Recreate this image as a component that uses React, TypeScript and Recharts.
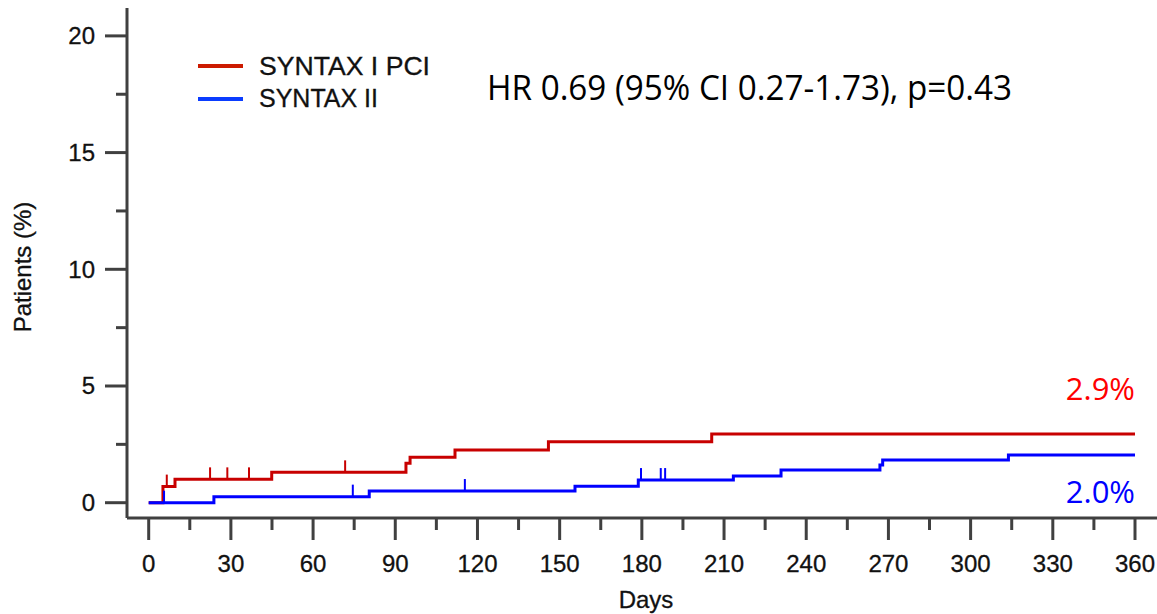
import { ComposedChart, Line, Scatter, XAxis, YAxis, Legend, Customized } from "recharts";

const dayTicks = [0, 15, 30, 45, 60, 75, 90, 105, 120, 135, 150, 165, 180, 195, 210, 225, 240, 255, 270, 285, 300, 315, 330, 345, 360];
const pctTicks = [0, 2.5, 5, 7.5, 10, 12.5, 15, 17.5, 20];

// Kaplan-Meier step points (day, cumulative %)
const pciDays = [0, 5.2, 9.6, 44.9, 93.9, 95.4, 111.8, 145.9, 205.5, 360];
const pciRisk = [0, 0.69, 1.0, 1.3, 1.69, 1.95, 2.26, 2.61, 2.94, 2.94];
const iiDays = [0, 23.8, 80.5, 155.6, 178.7, 213.4, 230.8, 266.9, 267.9, 313.8, 360];
const iiRisk = [0, 0.26, 0.5, 0.71, 0.97, 1.14, 1.4, 1.62, 1.83, 2.04, 2.04];

// censored observations
const pciCensorDays = [6.6, 22.4, 28.7, 36.6, 71.7];
const pciCensorRisk = [0.69, 1.0, 1.0, 1.0, 1.3];
const iiCensorDays = [5.6, 74.5, 115.4, 179.7, 186.9, 188.5];
const iiCensorRisk = [0, 0.26, 0.5, 0.97, 0.97, 0.97];

const pciLabel = "2.9%";
const iiLabel = "2.0%";

const pciData = pciDays.map((d, i) => ({ day: d, pct: pciRisk[i] }));
const iiData = iiDays.map((d, i) => ({ day: d, pct: iiRisk[i] }));
const pciCensor = pciCensorDays.map((d, i) => ({ day: d, pct: pciCensorRisk[i] }));
const iiCensor = iiCensorDays.map((d, i) => ({ day: d, pct: iiCensorRisk[i] }));

const RED = "#c80000";
const BLUE = "#0000ff";
const AXIS = "#404040";
const INK = "#111";
const ARIAL = "'Liberation Sans', Arial, sans-serif";
const CALIBRI = "'Open Sans', 'Noto Sans', sans-serif";

function DayTick({ x, y, payload }: any) {
  const major = payload.value % 30 === 0;
  return (
    <g>
      <line x1={x} x2={x} y1={y} y2={y + (major ? 22 : 12)} stroke={AXIS} strokeWidth={3} />
      {major && (
        <text x={x} y={y + 54} textAnchor="middle" fontSize={24} fontFamily={ARIAL} fill={INK} stroke={INK} strokeWidth={0.3}>
          {payload.value}
        </text>
      )}
    </g>
  );
}

function PctTick({ x, y, payload }: any) {
  const major = payload.value % 5 === 0;
  return (
    <g>
      <line x1={x - (major ? 22 : 11)} x2={x} y1={y} y2={y} stroke={AXIS} strokeWidth={3} />
      {major && (
        <text x={x - 32} y={y + 8.5} textAnchor="end" fontSize={24} fontFamily={ARIAL} fill={INK} stroke={INK} strokeWidth={0.3}>
          {payload.value}
        </text>
      )}
    </g>
  );
}

const censorMark = (color: string) => (p: any) =>
  <line x1={p.cx} x2={p.cx} y1={p.cy} y2={p.cy - 12} stroke={color} strokeWidth={2} />;

const endLabel = (text: string, color: string, dy: number, last: number) => (p: any) =>
  p.index === last ? (
    <text key="end" x={p.x} y={p.y + dy} textAnchor="end" fontSize={31} fontFamily={CALIBRI} fill={color}>
      {text}
    </text>
  ) : null;

function LegendBox() {
  return (
    <svg width={270} height={72} style={{ display: "block" }}>
      <line x1={8} x2={53} y1={21} y2={21} stroke="#cc1a00" strokeWidth={4} />
      <text x={69} y={29.5} fontSize={25} fontFamily={ARIAL} fill={INK} stroke={INK} strokeWidth={0.3} textLength={171} lengthAdjust="spacingAndGlyphs">
        SYNTAX I PCI
      </text>
      <line x1={8} x2={53} y1={54} y2={54} stroke="#0a3cff" strokeWidth={4} />
      <text x={69} y={62} fontSize={25} fontFamily={ARIAL} fill={INK} stroke={INK} strokeWidth={0.3}>
        SYNTAX II
      </text>
    </svg>
  );
}

export default function App() {
  return (
    <div style={{ position: "absolute", left: 0, top: 0, width: 1157, height: 614, background: "#fff" }}>
      <ComposedChart width={1157} height={614} margin={{ top: 8, right: 0, bottom: 0, left: 0 }}>
        <XAxis
          type="number"
          dataKey="day"
          domain={[-7.92, 368.03]}
          ticks={dayTicks}
          interval={0}
          allowDataOverflow
          height={96}
          tickSize={0}
          tickMargin={0}
          tickLine={false}
          axisLine={{ stroke: AXIS, strokeWidth: 3 }}
          tick={<DayTick />}
          label={{
            content: ({ viewBox }: any) => (
              <text x={viewBox.x + viewBox.width / 2 + 4} y={viewBox.y + 90} textAnchor="middle" fontSize={24} fontFamily={ARIAL} fill={INK} stroke={INK} strokeWidth={0.3}>
                Days
              </text>
            ),
          }}
        />
        <YAxis
          type="number"
          dataKey="pct"
          domain={[-0.6555, 21.195]}
          ticks={pctTicks}
          interval={0}
          allowDataOverflow
          width={127}
          tickSize={0}
          tickMargin={0}
          tickLine={false}
          axisLine={{ stroke: AXIS, strokeWidth: 3 }}
          tick={<PctTick />}
          label={{
            content: ({ viewBox }: any) => {
              const cx = viewBox.x + 31;
              const cy = viewBox.y + viewBox.height / 2 + 4;
              return (
                <text x={cx} y={cy} transform={`rotate(-90 ${cx} ${cy})`} textAnchor="middle" fontSize={24} fontFamily={ARIAL} fill={INK} stroke={INK} strokeWidth={0.3}>
                  Patients (%)
                </text>
              );
            },
          }}
        />
        <Legend layout="vertical" align="center" verticalAlign="middle" content={<LegendBox />} wrapperStyle={{ left: 190, top: 45, width: 270 }} />
        <Line
          name="SYNTAX I PCI"
          data={pciData}
          dataKey="pct"
          type="stepAfter"
          stroke={RED}
          strokeWidth={3}
          dot={false}
          activeDot={false}
          isAnimationActive={false}
          label={endLabel(pciLabel, "#ff0000", -34, pciData.length - 1)}
        />
        <Line
          name="SYNTAX II"
          data={iiData}
          dataKey="pct"
          type="stepAfter"
          stroke={BLUE}
          strokeWidth={3}
          dot={false}
          activeDot={false}
          isAnimationActive={false}
          label={endLabel(iiLabel, BLUE, 48, iiData.length - 1)}
        />
        <Scatter data={pciCensor} dataKey="pct" shape={censorMark(RED)} isAnimationActive={false} legendType="none" />
        <Scatter data={iiCensor} dataKey="pct" shape={censorMark(BLUE)} isAnimationActive={false} legendType="none" />
        <Customized
          component={() => (
            <text x={487} y={100} fontSize={34} fontFamily={CALIBRI} fill="#000" textLength={525} lengthAdjust="spacingAndGlyphs">
              HR 0.69 (95% CI 0.27-1.73), p=0.43
            </text>
          )}
        />
      </ComposedChart>
    </div>
  );
}
